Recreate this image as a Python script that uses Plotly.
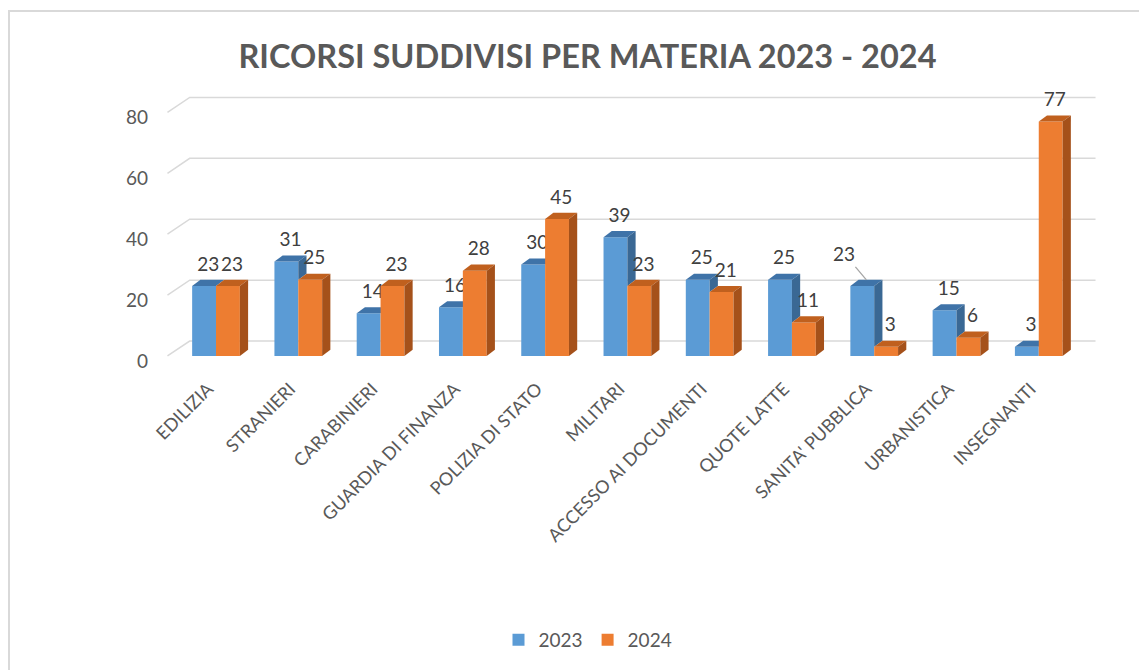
import plotly.graph_objects as go

categories = [
    "EDILIZIA", "STRANIERI", "CARABINIERI", "GUARDIA DI FINANZA", "POLIZIA DI STATO",
    "MILITARI", "ACCESSO AI DOCUMENTI", "QUOTE LATTE", "SANITA' PUBBLICA",
    "URBANISTICA", "INSEGNANTI",
]
ricorsi_2023 = [23, 31, 14, 16, 30, 39, 25, 25, 23, 15, 3]
ricorsi_2024 = [23, 25, 23, 28, 45, 23, 21, 11, 3, 6, 77]
y_ticks = [0, 20, 40, 60, 80]

# Excel moved this one label off its bar and added a leader line
MOVED_LABEL_2023 = "SANITA' PUBBLICA"

BLUE, BLUE_TOP, BLUE_SIDE = "#5B9BD5", "#3F73A8", "#3A6894"
ORANGE, ORANGE_TOP, ORANGE_SIDE = "#ED7D31", "#C0601E", "#A5511A"
FONT = "Lato"
W = 0.29     # bar width (x units)
DX = 0.1     # depth offset, x units
DY = 2.0     # depth offset, y units
GRID_LIFT = 4.9

# the page body has an 8px margin, so the figure is drawn 8px smaller
FIG_W, FIG_H = 1139, 662
M_L, M_R, M_T, M_B = 157, 49, 80, 311
PLOT_W = FIG_W - M_L - M_R
PLOT_H = FIG_H - M_T - M_B

idx = list(range(len(categories)))

fig = go.Figure()

# back-wall gridlines (bottom layer, subplot x/y)
for t in y_ticks:
    fig.add_trace(go.Scatter(
        x=[-0.59, -0.32, 10.69], y=[t, t + GRID_LIFT, t + GRID_LIFT], mode="lines",
        line=dict(color="#d9d9d9", width=1.5), hoverinfo="skip", showlegend=False,
    ))


def add_series(vals, other, offset, front, top, side, name, xa, ya, draw_side_from_other, skip=None):
    xs = [i + offset for i in idx]
    fig.add_trace(go.Bar(
        x=[x + W / 2 for x in xs], y=vals, width=W, name=name,
        marker=dict(color=front, line=dict(width=0)), xaxis=xa, yaxis=ya,
    ))
    for k, (x0, v) in enumerate(zip(xs, vals)):
        x1 = x0 + W
        # top face
        fig.add_trace(go.Scatter(
            x=[x0, x1, x1 + DX, x0 + DX, x0], y=[v, v, v + DY, v + DY, v],
            fill="toself", fillcolor=top, mode="lines", line=dict(width=0, color=top),
            hoverinfo="skip", showlegend=False, xaxis=xa, yaxis=ya,
        ))
        # side face (part not hidden by the bar in front)
        base = other[k] if draw_side_from_other else 0
        if v > base:
            fig.add_trace(go.Scatter(
                x=[x1, x1 + DX, x1 + DX, x1, x1], y=[base, base + DY, v + DY, v, base],
                fill="toself", fillcolor=side, mode="lines", line=dict(width=0, color=side),
                hoverinfo="skip", showlegend=False, xaxis=xa, yaxis=ya,
            ))
    labels = ["" if categories[k] == skip else str(v) for k, v in enumerate(vals)]
    fig.add_trace(go.Scatter(
        x=[x + W / 2 + DX / 2 for x in xs], y=[v + DY + 1.5 for v in vals],
        mode="text", text=labels, textposition="top center",
        textfont=dict(family=FONT, size=19, color="#404040"),
        hoverinfo="skip", showlegend=False, xaxis=xa, yaxis=ya, cliponaxis=False,
    ))
    if skip is not None:
        k = categories.index(skip)
        fig.add_annotation(
            x=xs[k] + W / 2 + DX / 2, y=vals[k] + DY, xref=xa, yref=ya,
            text=str(vals[k]), showarrow=True, arrowhead=0, arrowwidth=1.3,
            arrowcolor="#a6a6a6", ax=-22, ay=-26, standoff=0,
            font=dict(family=FONT, size=19, color="#404040"),
        )


add_series(ricorsi_2023, ricorsi_2024, -W, BLUE, BLUE_TOP, BLUE_SIDE, "2023", "x2", "y2", True,
           skip=MOVED_LABEL_2023)
add_series(ricorsi_2024, ricorsi_2023, 0.0, ORANGE, ORANGE_TOP, ORANGE_SIDE, "2024", "x3", "y3", False)

xr = [-0.62, 10.72]
yr = [-1, 88]
hidden = dict(visible=False, showgrid=False, zeroline=False)

fig.update_layout(
    width=FIG_W, height=FIG_H,
    margin=dict(l=M_L, r=M_R, t=M_T, b=M_B),
    paper_bgcolor="white", plot_bgcolor="rgba(0,0,0,0)",
    font=dict(family=FONT, color="#595959"),
    title=dict(
        text="<b>RICORSI SUDDIVISI PER MATERIA 2023 - 2024</b>",
        x=579.5 / FIG_W, xanchor="center", yref="container", y=1 - 49 / FIG_H, yanchor="middle",
        font=dict(family=FONT, size=32.5, color="#595959"),
    ),
    xaxis=dict(
        range=xr, tickmode="array", tickvals=idx, ticktext=categories, tickangle=-45,
        showgrid=False, zeroline=False, showline=False, ticks="", ticklabelstandoff=15,
        ticklabelshift=-8,
        tickfont=dict(family=FONT, size=18, color="#595959"),
    ),
    yaxis=dict(
        range=yr, tickmode="array", tickvals=y_ticks, showgrid=False, zeroline=False,
        showline=False, ticks="", ticklabelstandoff=16, ticklabelshift=5,
        tickfont=dict(family=FONT, size=19, color="#595959"),
    ),
    xaxis2=dict(overlaying="x", matches="x", **hidden),
    yaxis2=dict(overlaying="y", matches="y", **hidden),
    xaxis3=dict(overlaying="x", matches="x", **hidden),
    yaxis3=dict(overlaying="y", matches="y", **hidden),
    showlegend=True,
    legend=dict(
        orientation="h", x=580 / FIG_W, xanchor="center", xref="container",
        y=1 - 632 / FIG_H, yanchor="middle", yref="container",
        font=dict(family=FONT, size=19, color="#595959"), itemwidth=30,
    ),
    shapes=[dict(
        type="rect", xref="paper", yref="paper",
        x0=(1 - M_L) / PLOT_W, x1=(1200 - M_L) / PLOT_W,
        y0=(PLOT_H + M_T - 700) / PLOT_H, y1=(PLOT_H + M_T - 3) / PLOT_H,
        line=dict(color="#d9d9d9", width=2), fillcolor="rgba(0,0,0,0)", layer="below",
    )],
)

fig.write_html("out.html")
